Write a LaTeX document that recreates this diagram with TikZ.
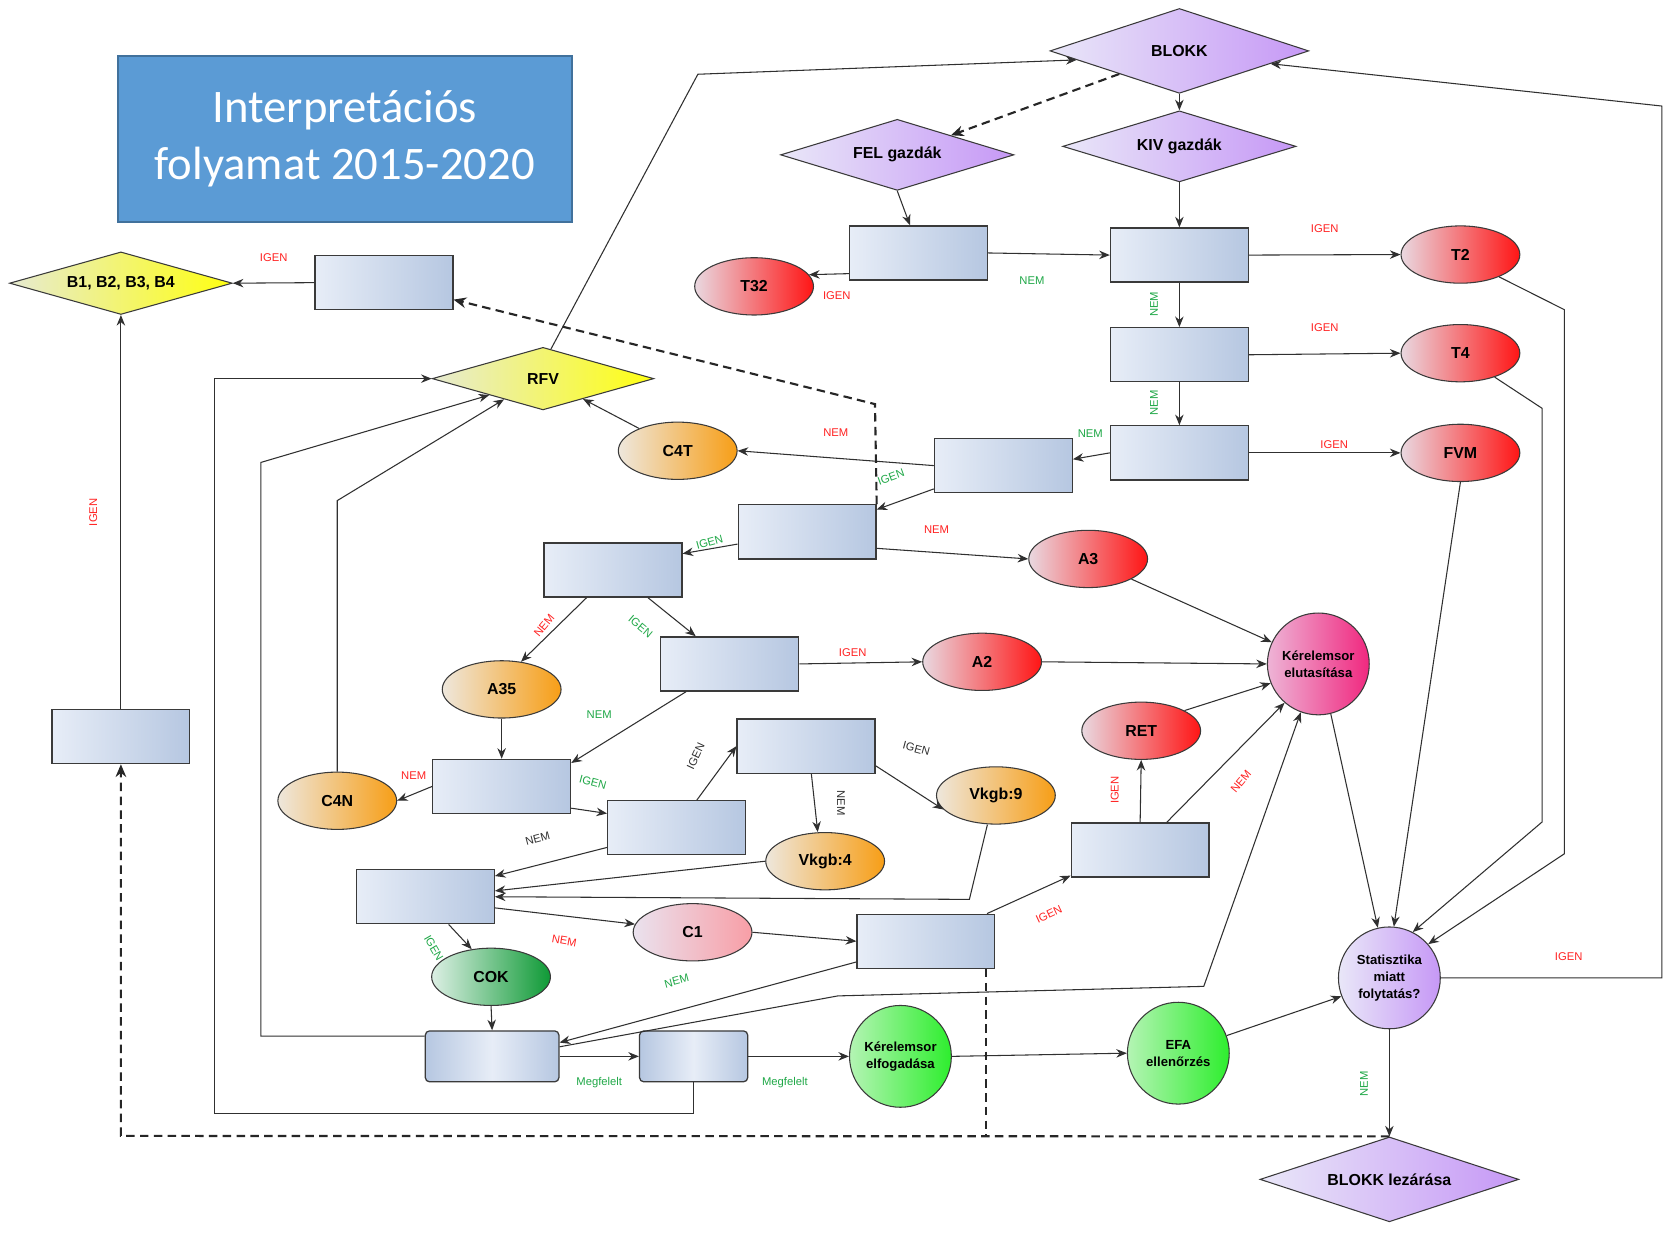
\documentclass[tikz,border=0pt]{standalone}
\usepackage{fontspec}
\setmainfont{Liberation Sans}
\newfontfamily\titlefont{Carlito}
\usetikzlibrary{shapes.geometric,arrows.meta,calc}
\definecolor{linec}{HTML}{303030}
\definecolor{bordc}{HTML}{3A3A3A}
\definecolor{boxL}{HTML}{E7EDF7}
\definecolor{boxR}{HTML}{B6C7E1}
\definecolor{redL}{HTML}{E9D8E0}
\definecolor{redR}{HTML}{FF1515}
\definecolor{orL}{HTML}{EEE7DC}
\definecolor{orR}{HTML}{F79E16}
\definecolor{purL}{HTML}{E9E7F8}
\definecolor{purR}{HTML}{C698F6}
\definecolor{yelL}{HTML}{E6EAD2}
\definecolor{yelR}{HTML}{FFFF10}
\definecolor{pinkL}{HTML}{EEB4D6}
\definecolor{pinkR}{HTML}{F0287F}
\definecolor{c1L}{HTML}{EAE2EE}
\definecolor{c1R}{HTML}{F89EA6}
\definecolor{cokL}{HTML}{DCEFE4}
\definecolor{cokR}{HTML}{0F9A36}
\definecolor{grnL}{HTML}{B4F4B4}
\definecolor{grnR}{HTML}{2EEE2E}
\definecolor{titleblue}{HTML}{5B9BD5}
\definecolor{titlebord}{HTML}{41719C}
\definecolor{lred}{HTML}{FF2222}
\definecolor{lgreen}{HTML}{1FA847}
\definecolor{lblack}{HTML}{303030}
\tikzset{
  conn/.style={draw=linec, line width=0.5pt, -{Stealth[length=5pt,width=4pt]}},
  dshd/.style={draw=black!85, line width=1pt, dash pattern=on 4pt off 2.5pt},
  bx/.style={rectangle, draw=bordc, line width=0.6pt, minimum width=65pt, minimum height=25.5pt, inner sep=0pt, left color=boxL, right color=boxR},
  bxr/.style={rectangle, rounded corners=2pt, draw=bordc, line width=0.6pt, minimum height=24pt, inner sep=0pt, left color=boxR, right color=boxR, middle color=boxL},
  ell/.style={ellipse, draw=bordc, line width=0.5pt, minimum width=56pt, minimum height=27pt, inner sep=0pt, font=\fontsize{7.5}{9}\selectfont\bfseries},
  redn/.style={ell, left color=redL, right color=redR},
  orn/.style={ell, left color=orL, right color=orR},
  circ/.style={circle, draw=bordc, line width=0.5pt, minimum size=48pt, inner sep=0pt, align=center, font=\fontsize{6.2}{8}\selectfont\bfseries},
  dia/.style={diamond, draw=bordc, line width=0.5pt, inner sep=0pt, font=\fontsize{7.5}{9}\selectfont\bfseries},
  purd/.style={dia, left color=purL, right color=purR},
  yeld/.style={dia, left color=yelL, right color=yelR},
  lbl/.style={font=\fontsize{5.3}{6}\selectfont, inner sep=0pt},
  lr/.style={lbl, text=lred},
  lg/.style={lbl, text=lgreen},
  lk/.style={lbl, text=lblack},
}
\begin{document}
\begin{tikzpicture}[x=0.5pt,y=-0.5pt]
\useasboundingbox[fill=white] (0,0) rectangle (1568,1162);

% title
\node[fill=titleblue, draw=titlebord, line width=1pt, minimum width=214pt, minimum height=78pt, text=white, align=center, font=\titlefont\fontsize{22}{27}\selectfont] (title) at (325,131) {Interpretációs\\folyamat 2015-2020};

% diamonds
\node[purd, aspect=3.05, minimum width=122pt, minimum height=40pt] (blokk) at (1112,48) {BLOKK};
\node[purd, aspect=3.3, minimum width=110pt, minimum height=33.5pt] (fel) at (846,146) {FEL gazdák};
\node[purd, aspect=3.3, minimum width=110pt, minimum height=33.5pt] (kiv) at (1112,138) {KIV gazdák};
\node[yeld, aspect=3.55, minimum width=105pt, minimum height=29.5pt] (bdia) at (114,267) {B1, B2, B3, B4};
\node[yeld, aspect=3.55, minimum width=104.5pt, minimum height=29.5pt] (rfv) at (512,357) {RFV};
\node[purd, aspect=3.05, minimum width=122pt, minimum height=40pt] (blz) at (1310,1112) {BLOKK lezárása};

% boxes
\node[bx] (rb) at (362,266.5) {};
\node[bx] (rfel) at (866,238.5) {};
\node[bx] (rk1) at (1112,240.5) {};
\node[bx] (rk2) at (1112,334.5) {};
\node[bx] (rk3) at (1112,427) {};
\node[bx] (rc4t) at (946,439) {};
\node[bx] (ra3) at (761,501.5) {};
\node[bx] (rx) at (578,537.5) {};
\node[bx] (ra2) at (688,626) {};
\node[bx] (rv) at (760,703.5) {};
\node[bx] (rc4n) at (473,741.5) {};
\node[bx] (rmid) at (638,780.5) {};
\node[bx] (rleft) at (114,694.5) {};
\node[bx] (rret) at (1075,801.5) {};
\node[bx] (rmain) at (401,845.5) {};
\node[bx] (rc1) at (873,887.5) {};
\node[bxr, minimum width=63pt] (rbot1) at (464,996) {};
\node[bxr, minimum width=51pt] (rbot2) at (654,996) {};

% ellipses
\node[redn] (t32) at (711,270) {T32};
\node[redn] (t2) at (1377,240) {T2};
\node[redn] (t4) at (1377,333) {T4};
\node[redn] (fvm) at (1377,427) {FVM};
\node[orn] (c4t) at (639,425) {C4T};
\node[redn] (a3) at (1026,527) {A3};
\node[redn] (a2) at (926,624) {A2};
\node[orn] (a35) at (473,650) {A35};
\node[redn] (ret) at (1076,689) {RET};
\node[orn] (vk9) at (939,750) {Vkgb:9};
\node[orn] (vk4) at (778,812) {Vkgb:4};
\node[orn] (c4n) at (318,755) {C4N};
\node[ell, left color=c1L, right color=c1R] (c1) at (653,879) {C1};
\node[ell, left color=cokL, right color=cokR] (cok) at (463,921) {COK};

% circles
\node[circ, left color=pinkL, right color=pinkR] (kel) at (1243,626) {Kérelemsor\\elutasítása};
\node[circ, left color=grnL, right color=grnR] (kef) at (849,996) {Kérelemsor\\elfogadása};
\node[circ, left color=grnL, right color=grnR] (efa) at (1111,993) {EFA\\ellenőrzés};
\node[circ, left color=purL, right color=purR] (stat) at (1310,922) {Statisztika\\miatt\\folytatás?};

% bend coordinates
\coordinate (k28) at (318,472);
\coordinate (k35) at (914,848);
\coordinate (k42a) at (790,939);
\coordinate (k42b) at (1135,930);
\coordinate (k43a) at (246,977);
\coordinate (k43b) at (246,436);
\coordinate (k46a) at (654,1050);
\coordinate (k46b) at (202,1050);
\coordinate (k46c) at (202,357);
\coordinate (k51a) at (1454,385);
\coordinate (k51b) at (1454,775);
\coordinate (k52a) at (1475,292);
\coordinate (k52b) at (1475,805);
\coordinate (k53a) at (1567,922);
\coordinate (k53b) at (1567,100);
\coordinate (k55) at (658,70);
\coordinate (k56) at (825,381);
\coordinate (k59a) at (930,1071);
\coordinate (k59b) at (114,1071);

% connectors
\draw[conn] (blokk.south) -- (kiv.north);
\draw[dshd, -{Stealth[length=6pt,width=5pt]}] (blokk.201) -- (fel.20);
\draw[conn] (fel.south) -- ([xshift=-4pt]rfel.north);
\draw[conn] (kiv.south) -- (rk1.north);
\draw[conn] ([yshift=-9.75pt]rfel.west) -- (t32.12);
\draw[conn] (rfel.east) -- (rk1.west);
\draw[conn] (rk1.east) -- (t2.west);
\draw[conn] (rk1.south) -- (rk2.north);
\draw[conn] (rk2.east) -- (t4.west);
\draw[conn] (rk2.south) -- (rk3.north);
\draw[conn] (rk3.east) -- (fvm.west);
\draw[conn] (rk3.west) -- ([yshift=3pt]rc4t.east);
\draw[conn] (rc4t.west) -- (c4t.east);
\draw[conn] ([yshift=-11pt]rc4t.west) -- ([yshift=-2.5pt]ra3.north east);
\draw[conn] ([yshift=-7.75pt]ra3.east) -- (a3.west);
\draw[conn] ([yshift=-5.75pt]ra3.west) -- ([yshift=7.75pt]rx.east);
\draw[conn] ([xshift=-12.5pt]rx.south) -- (a35.55);
\draw[conn] ([xshift=16.5pt]rx.south) -- ([xshift=-16pt]ra2.north);
\draw[conn] (ra2.east) -- (a2.west);
\draw[conn] (a2.east) -- (kel.west);
\draw[conn] (a3.-25) -- (kel.155);
\draw[conn] (ret.25) -- (kel.202);
\draw[conn] (rret.north) -- (ret.south);
\draw[conn] ([xshift=12.5pt]rret.north) -- (kel.229);
\draw[conn] ([xshift=-20.5pt]ra2.south) -- ([yshift=-2pt]rc4n.north east);
\draw[conn] (a35.south) -- (rc4n.north);
\draw[conn] (rc4n.west) -- (c4n.east);
\draw[conn] (c4n.north) -- (k28) -- (rfv.208);
\draw[conn] ([yshift=-10.25pt]rc4n.east) -- ([yshift=6.75pt]rmid.west);
\draw[conn] ([xshift=9.5pt]rmid.north) -- (rv.west);
\draw[conn] ([yshift=-9.25pt]rv.east) -- (vk9.195);
\draw[conn] ([xshift=2.5pt]rv.south) -- ([xshift=-3.5pt]vk4.north);
\draw[conn] ([yshift=-9.25pt]rmid.west) -- ([yshift=9.75pt]rmain.east);
\draw[conn] (vk4.west) -- ([yshift=2.75pt]rmain.east);
\draw[conn] ([xshift=-4pt]vk9.south) -- (k35) -- (rmain.east);
\draw[conn] ([yshift=-5.25pt]rmain.east) -- (c1.172);
\draw[conn] (c1.east) -- (rc1.west);
\draw[conn] ([xshift=11pt]rmain.south) -- (cok.125);
\draw[conn] (cok.south) -- (rbot1.north);
\draw[conn] ([xshift=-4pt]rc1.north east) -- ([yshift=1pt]rret.south west);
\draw[conn] ([yshift=-9.75pt]rc1.west) -- ([yshift=6.5pt]rbot1.east);
\draw[conn] ([yshift=4.5pt]rbot1.east) -- (k42a) -- (k42b) -- (kel.250);
\draw[conn] ([yshift=9.5pt]rbot1.west) -- (k43a) -- (k43b) -- (rfv.197);
\draw[conn] (rbot1.east) -- (rbot2.west);
\draw[conn] (rbot2.east) -- (kef.west);
\draw[conn] (rbot2.south) -- (k46a) -- (k46b) -- (k46c) -- (rfv.west);
\draw[conn] (kef.east) -- (efa.west);
\draw[conn] (efa.20) -- (stat.201);
\draw[conn] (kel.-76) -- (stat.103);
\draw[conn] (fvm.south) -- (stat.85);
\draw[conn] (t4.-35) -- (k51a) -- (k51b) -- (stat.63);
\draw[conn] (t2.-30) -- (k52a) -- (k52b) -- (stat.41);
\draw[conn] (stat.east) -- (k53a) -- (k53b) -- (blokk.-8);
\draw[conn] (stat.south) -- (blz.north);
\draw[conn] (rfv.75) -- (k55) -- (blokk.185);
\draw[dshd, -{Stealth[length=6pt,width=5pt]}] (ra3.north east) -- (k56) -- ([yshift=-8pt]rb.east);
\draw[conn] (rb.west) -- (bdia.east);
\draw[conn] (rleft.north) -- (bdia.south);
\draw[conn] (c4t.150) -- (rfv.-27);
\draw[dshd] ([xshift=28.5pt]rc1.south) -- (k59a);
\draw[dshd, -{Stealth[length=6pt,width=5pt]}] (blz.north) -- (k59b) -- (rleft.south);

% labels
\node[lr] (l1) at (258,243) {IGEN};
\node[lr, rotate=90] (l2) at (88,483) {IGEN};
\node[lr] (l3) at (789,279) {IGEN};
\node[lg] (l4) at (973,265) {NEM};
\node[lr] (l5) at (1249,216) {IGEN};
\node[lg, rotate=90] (l6) at (1088,287) {NEM};
\node[lr] (l7) at (1249,309) {IGEN};
\node[lg, rotate=90] (l8) at (1088,380) {NEM};
\node[lr] (l9) at (1258,419) {IGEN};
\node[lg] (l10) at (1028,409) {NEM};
\node[lr] (l11) at (788,408) {NEM};
\node[lg, rotate=20] (l12) at (840,450) {IGEN};
\node[lr] (l13) at (883,499) {NEM};
\node[lg, rotate=15] (l14) at (669,511) {IGEN};
\node[lr, rotate=50] (l15) at (513,590) {NEM};
\node[lg, rotate=-40] (l16) at (604,591) {IGEN};
\node[lr] (l17) at (804,615) {IGEN};
\node[lg] (l18) at (565,674) {NEM};
\node[lr] (l19) at (390,731) {NEM};
\node[lg, rotate=-15] (l20) at (559,738) {IGEN};
\node[lk, rotate=65] (l21) at (656,713) {IGEN};
\node[lk, rotate=-15] (l22) at (864,706) {IGEN};
\node[lk, rotate=-90] (l23) at (793,757) {NEM};
\node[lk, rotate=15] (l24) at (507,791) {NEM};
\node[lr, rotate=90] (l25) at (1051,745) {IGEN};
\node[lr, rotate=50] (l26) at (1170,737) {NEM};
\node[lr, rotate=-10] (l27) at (532,887) {NEM};
\node[lg, rotate=-60] (l28) at (409,894) {IGEN};
\node[lr, rotate=25] (l29) at (989,862) {IGEN};
\node[lg, rotate=15] (l30) at (638,925) {NEM};
\node[lg] (l31) at (565,1021) {Megfelelt};
\node[lg] (l32) at (740,1021) {Megfelelt};
\node[lr] (l33) at (1479,902) {IGEN};
\node[lg, rotate=90] (l34) at (1286,1022) {NEM};
\end{tikzpicture}
\end{document}
